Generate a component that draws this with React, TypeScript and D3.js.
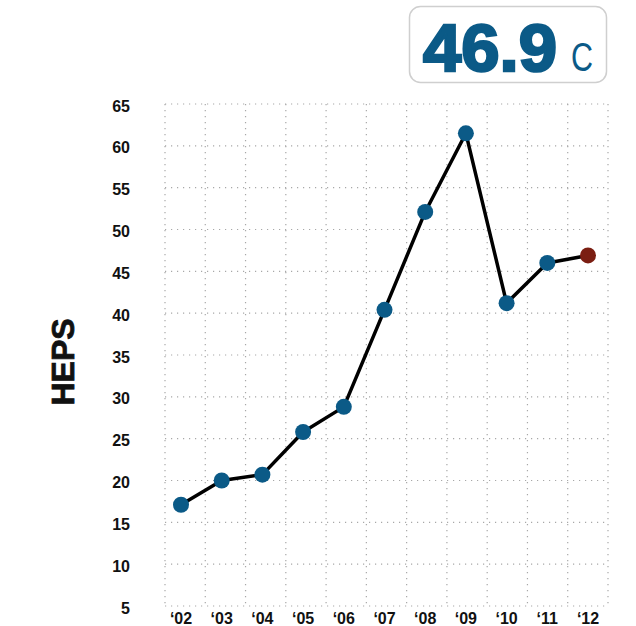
import React from "react";
import * as d3 from "d3";

const years = ["02", "03", "04", "05", "06", "07", "08", "09", "10", "11", "12"];
const heps = [17.1, 20.0, 20.7, 25.8, 28.8, 40.4, 52.1, 61.5, 41.2, 46.0, 46.9];
const yTicks = [5, 10, 15, 20, 25, 30, 35, 40, 45, 50, 55, 60, 65];
const headline = "46.9";
const headlineUnit = "c";
const axisTitle = "HEPS";

const W = 636;
const H = 626;
const BLUE = "#0b5a87";
const RED = "#7b1e12";
const GRID = "#a8a8a8";

export default function App() {
  const gridLeft = 165;
  const gridRight = 608;
  const y = d3.scaleLinear().domain([5, 65]).range([606, 104]);
  const x = d3.scalePoint<string>().domain(years).range([181, 588]);
  const gridX = d3.range(years.length + 1).map((i) => gridLeft + ((gridRight - gridLeft) * i) / years.length);
  const line = d3
    .line<number>()
    .x((_, i) => x(years[i]) as number)
    .y((d) => y(d));
  const font = "'Liberation Sans', Arial, sans-serif";
  const last = heps.length - 1;
  return (
    <svg width={W} height={H} style={{ position: "absolute", left: 0, top: 0, background: "#fff" }}>
      {/* headline box */}
      <rect x={409.5} y={6.5} width={197} height={76} rx={11} fill="#fff" stroke="#cfcfcf" strokeWidth={1.5} />
      <text x={423} y={71} fontFamily={font} fontWeight="bold" fontSize={66} fill={BLUE} stroke={BLUE} strokeWidth={2.5} textLength={134} lengthAdjust="spacingAndGlyphs">
        {headline}
      </text>
      <text x={571} y={71} fontFamily={font} fontSize={40} fill={BLUE} textLength={22} lengthAdjust="spacingAndGlyphs">
        {headlineUnit.toUpperCase()}
      </text>
      {/* grid */}
      {yTicks.map((t) => (
        <line key={"h" + t} x1={gridLeft} x2={gridRight} y1={y(t)} y2={y(t)} stroke={GRID} strokeWidth={1.2} strokeDasharray="1.2,4.8" />
      ))}
      {gridX.map((gx, i) => (
        <line key={"v" + i} x1={gx} x2={gx} y1={y(65)} y2={y(5)} stroke={GRID} strokeWidth={1.2} strokeDasharray="1.2,4.8" />
      ))}
      {/* y labels */}
      {yTicks.map((t) => (
        <text key={"yl" + t} x={130} y={y(t) + 2} dy="0.35em" textAnchor="end" fontFamily={font} fontWeight="bold" fontSize={16} fill="#111">
          {t}
        </text>
      ))}
      {/* x labels */}
      {years.map((yr) => (
        <text key={"xl" + yr} x={x(yr) as number} y={624} textAnchor="middle" fontFamily={font} fontWeight="bold" fontSize={16} fill="#111">
          {"\u2018" + yr}
        </text>
      ))}
      {/* axis title */}
      <text transform={`translate(74,362) rotate(-90)`} textAnchor="middle" fontFamily={font} fontWeight="bold" fontSize={32} fill="#111" stroke="#111" strokeWidth={0.8}>
        {axisTitle}
      </text>
      {/* line */}
      <path d={line(heps) || ""} fill="none" stroke="#000" strokeWidth={3.5} strokeLinejoin="round" />
      {heps.map((v, i) => (
        <circle key={"c" + i} cx={x(years[i]) as number} cy={y(v)} r={8} fill={i === last ? RED : BLUE} />
      ))}
    </svg>
  );
}
